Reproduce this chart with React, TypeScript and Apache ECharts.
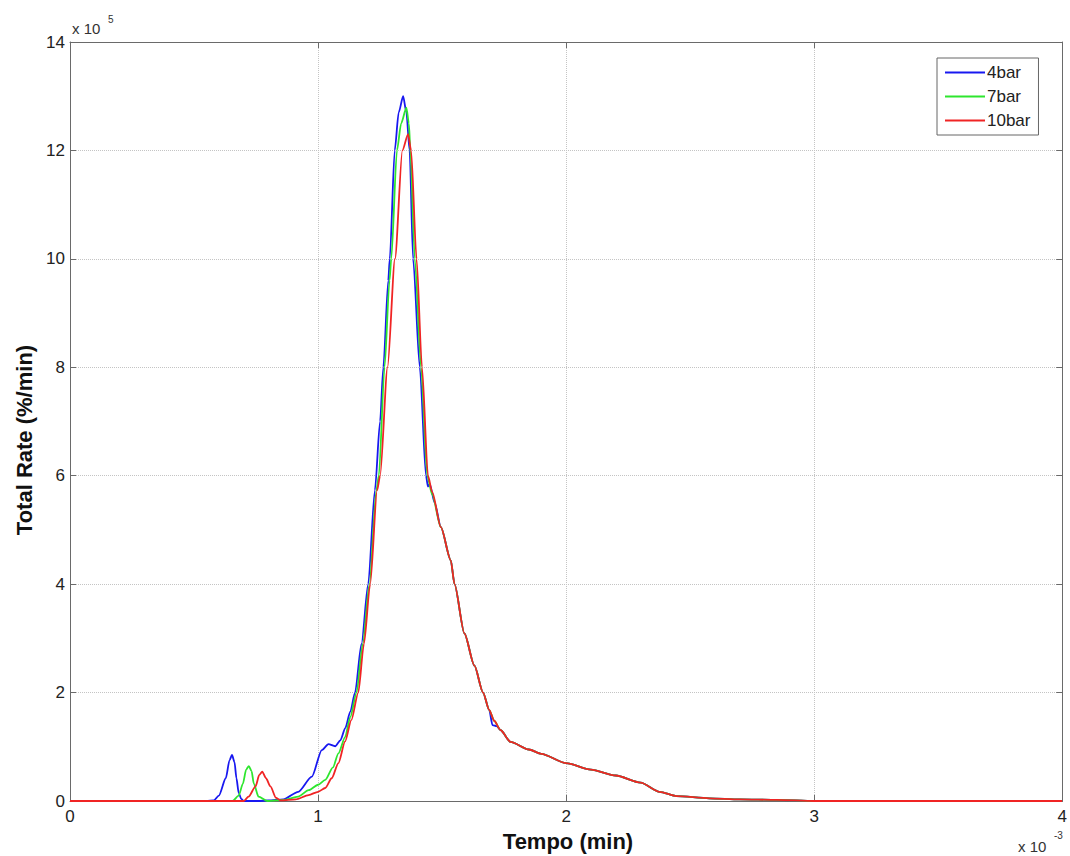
import React, { useEffect, useRef } from 'react';
import * as echarts from 'echarts';

// Tempo in units of 1e-3 min, Total Rate in units of 1e5 %/min
const bar4X = [0, 0.55, 0.58, 0.6, 0.628, 0.643, 0.653, 0.663, 0.671, 0.68, 0.69, 0.7, 0.76, 0.8, 0.86, 0.92, 0.975, 1.015, 1.042, 1.069, 1.09, 1.11, 1.13, 1.149, 1.175, 1.202, 1.229, 1.25, 1.263, 1.283, 1.289, 1.309, 1.325, 1.343, 1.356, 1.369, 1.383, 1.41, 1.435, 1.443, 1.45, 1.47, 1.495, 1.535, 1.55, 1.59, 1.63, 1.665, 1.69, 1.703, 1.72, 1.735, 1.776, 1.85, 1.9, 2.0, 2.1, 2.2, 2.3, 2.377, 2.445, 2.577, 2.7, 2.85, 3.0, 4.0];
const bar4Y = [0, 0, 0.01, 0.1, 0.42, 0.75, 0.85, 0.72, 0.42, 0.15, 0.04, 0, 0, 0.01, 0.03, 0.17, 0.45, 0.94, 1.05, 1.01, 1.12, 1.35, 1.65, 2.0, 2.9, 4.0, 5.73, 7.0, 8.0, 9.6, 10.0, 12.0, 12.7, 13.0, 12.7, 12.0, 10.0, 8.0, 6.0, 5.8, 5.85, 5.5, 5.05, 4.44, 4.0, 3.09, 2.5, 2.0, 1.68, 1.4, 1.38, 1.31, 1.09, 0.95, 0.87, 0.7, 0.58, 0.47, 0.34, 0.17, 0.09, 0.05, 0.03, 0.02, 0, 0];

const bar7X = [0, 0.655, 0.68, 0.697, 0.71, 0.721, 0.732, 0.741, 0.76, 0.795, 0.86, 0.92, 0.962, 1.0, 1.029, 1.06, 1.082, 1.109, 1.13, 1.155, 1.18, 1.207, 1.235, 1.245, 1.268, 1.288, 1.295, 1.318, 1.335, 1.356, 1.366, 1.372, 1.39, 1.415, 1.44, 1.46, 1.495, 1.535, 1.55, 1.59, 1.63, 1.665, 1.69, 1.71, 1.735, 1.776, 1.85, 1.9, 2.0, 2.1, 2.2, 2.3, 2.377, 2.445, 2.577, 2.7, 2.85, 3.0, 4.0];
const bar7Y = [0, 0, 0.1, 0.32, 0.58, 0.645, 0.55, 0.32, 0.08, 0, 0.02, 0.08, 0.2, 0.3, 0.39, 0.62, 0.88, 1.18, 1.55, 2.0, 2.9, 4.0, 5.73, 6.0, 8.0, 9.6, 10.0, 12.0, 12.5, 12.79, 12.5, 12.0, 10.0, 8.0, 6.0, 5.65, 5.05, 4.44, 4.0, 3.09, 2.5, 2.0, 1.68, 1.48, 1.31, 1.09, 0.95, 0.87, 0.7, 0.58, 0.47, 0.34, 0.17, 0.09, 0.05, 0.03, 0.02, 0, 0];

const bar10X = [0, 0.22, 0.7, 0.72, 0.748, 0.763, 0.775, 0.79, 0.808, 0.83, 0.85, 0.91, 0.962, 1.0, 1.029, 1.055, 1.082, 1.109, 1.134, 1.162, 1.185, 1.21, 1.238, 1.25, 1.28, 1.31, 1.34, 1.363, 1.375, 1.397, 1.419, 1.443, 1.46, 1.495, 1.535, 1.55, 1.59, 1.63, 1.665, 1.69, 1.71, 1.735, 1.776, 1.85, 1.9, 2.0, 2.1, 2.2, 2.3, 2.377, 2.445, 2.577, 2.7, 2.85, 3.0, 4.0];
const bar10Y = [0, 0, 0, 0.08, 0.27, 0.48, 0.54, 0.42, 0.27, 0.06, 0.01, 0.03, 0.11, 0.17, 0.24, 0.42, 0.7, 1.1, 1.49, 2.0, 2.9, 4.0, 5.73, 6.0, 8.0, 10.0, 12.0, 12.3, 12.0, 10.0, 8.0, 6.0, 5.7, 5.05, 4.44, 4.0, 3.09, 2.5, 2.0, 1.68, 1.48, 1.31, 1.09, 0.95, 0.87, 0.7, 0.58, 0.47, 0.34, 0.17, 0.09, 0.05, 0.03, 0.02, 0, 0];

const seriesNames = ['4bar', '7bar', '10bar'];
const seriesColors = ['#1818f0', '#2ee62e', '#f02424'];
const seriesX = [bar4X, bar7X, bar10X];
const seriesY = [bar4Y, bar7Y, bar10Y];

const FONT = '"Liberation Sans", Arial, Helvetica, sans-serif';
const FRAME = '#6a6a6a';

const axisCommon = {
  axisLine: { show: true, onZero: false, lineStyle: { color: FRAME, width: 1 } },
  axisTick: { show: true, inside: true, length: 6, lineStyle: { color: FRAME } },
};

export default function App() {
  const ref = useRef<HTMLDivElement>(null);
  useEffect(() => {
    document.body.style.margin = '0';
    const chart = echarts.init(ref.current as HTMLDivElement, null, { renderer: 'svg' });
    const option = {
      animation: false,
      backgroundColor: '#ffffff',
      grid: { left: 70, top: 42, right: 3, bottom: 55, containLabel: false },
      xAxis: [
        {
          type: 'value', min: 0, max: 4, interval: 1, position: 'bottom',
          ...axisCommon,
          axisLabel: { fontSize: 17, color: '#222', margin: 7, fontFamily: FONT },
          splitLine: { show: true, lineStyle: { type: 'dotted', color: '#c4c4c4', width: 1 } },
        },
        {
          type: 'value', min: 0, max: 4, interval: 1, position: 'top',
          ...axisCommon,
          axisLabel: { show: false },
          splitLine: { show: false },
        },
      ],
      yAxis: [
        {
          type: 'value', min: 0, max: 14, interval: 2, position: 'left',
          ...axisCommon,
          axisLabel: { fontSize: 17, color: '#222', margin: 5, fontFamily: FONT },
          splitLine: { show: true, lineStyle: { type: 'dotted', color: '#c4c4c4', width: 1 } },
        },
        {
          type: 'value', min: 0, max: 14, interval: 2, position: 'right',
          ...axisCommon,
          axisLabel: { show: false },
          splitLine: { show: false },
        },
      ],
      legend: {
        data: seriesNames,
        orient: 'vertical',
        left: 937,
        top: 58,
        icon: 'rect',
        itemWidth: 40,
        itemHeight: 2,
        itemGap: 7,
        padding: [6, 8, 6, 8],
        borderColor: '#666',
        borderWidth: 1,
        backgroundColor: '#fff',
        textStyle: { fontSize: 17, color: '#222', fontFamily: FONT, padding: [0, 0, 0, -3] },
      },
      graphic: [
        { type: 'text', left: 72, top: 21, style: { text: 'x 10', fontSize: 15, fill: '#333', font: `15px ${FONT}` } },
        { type: 'text', left: 108, top: 14, style: { text: '5', fontSize: 10, fill: '#333', font: `10px ${FONT}` } },
        { type: 'text', left: 1018, top: 839, style: { text: 'x 10', fontSize: 15, fill: '#333', font: `15px ${FONT}` } },
        { type: 'text', left: 1054, top: 830, style: { text: '-3', fontSize: 10, fill: '#333', font: `10px ${FONT}` } },
        {
          type: 'text', x: 568, y: 841,
          style: { text: 'Tempo (min)', fill: '#111', font: `bold 22px ${FONT}`, align: 'center', verticalAlign: 'middle' },
        },
        {
          type: 'text', x: 24, y: 440, rotation: Math.PI / 2,
          style: { text: 'Total Rate (%/min)', fill: '#111', font: `bold 22px ${FONT}`, align: 'center', verticalAlign: 'middle' },
        },
      ],
      series: seriesNames.map((name, i) => ({
        name,
        type: 'line',
        xAxisIndex: 0,
        yAxisIndex: 0,
        data: seriesX[i].map((x, j) => [x, seriesY[i][j]]),
        showSymbol: false,
        smooth: 0.25,
        smoothMonotone: 'x',
        color: seriesColors[i],
        lineStyle: { color: seriesColors[i], width: 1.8 },
        z: 2 + i,
      })),
    };
    chart.setOption(option as any);
    return () => chart.dispose();
  }, []);
  return <div ref={ref} style={{ position: 'absolute', left: 0, top: 0, width: 1070, height: 856, background: '#fff' }} />;
}
